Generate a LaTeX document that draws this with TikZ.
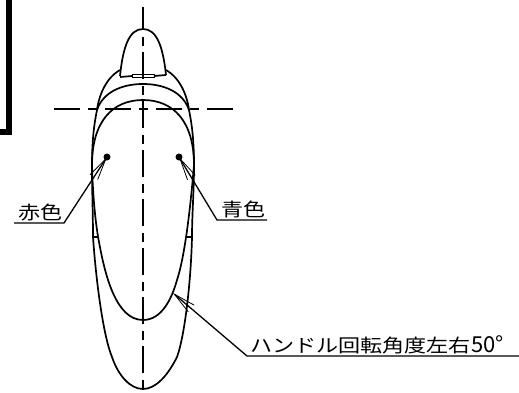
\documentclass[tikz,border=0pt]{standalone}
\usepackage{fontspec}
\usepackage{tikz}
\usetikzlibrary{arrows.meta}
\newfontfamily\jpfont[FakeStretch=1.2]{Noto Sans CJK JP}
\newfontfamily\jpdigits{Noto Sans CJK JP}
\tikzset{
    body/.style={line width=1.7pt},
    center line/.style={line width=1.3pt},
    vert dash/.style={dash pattern=on 27pt off 7pt on 9pt off 6pt, dash phase=4pt},
    horiz dash/.style={dash pattern=on 26pt off 8pt on 9pt off 8pt},
    leader/.style={line width=1.3pt, {Straight Barb[length=22pt,width=9pt,line width=0.8pt]}-},
    lever dot/.style={circle, fill=black, inner sep=0pt, minimum size=7pt},
    jp label/.style={inner sep=0pt, anchor=south west, font=\jpfont\fontsize{18.4}{18.4}\selectfont},
}
\begin{document}
\begin{tikzpicture}[x=1pt, y=-1pt]
    \useasboundingbox (0,0) rectangle (519,392);
    % frame corner
    \draw[line width=6pt] (9,0) -- (9,132) -- (0,132);
    % center lines
    \draw[center line, vert dash] (143,7) -- (143,392);
    \draw[center line, horiz dash] (54,109) -- (233,109);
    % spout
    \draw[body] (120,76) .. controls (123,47) and (129,29) .. (143,29)
                .. controls (157,29) and (163,47) .. (166,75);
    \draw[body] (120,77) -- (132,76) (154,76) -- (166,75);
    \draw[line width=1pt] (132,74) rectangle (154,77.5);
    % outer shoulder
    \draw[body] (120,70) .. controls (106,78) and (99,95) .. (97,110)
                .. controls (94,125) and (92,140) .. (92,167);
    \draw[body] (166,70) .. controls (180,78) and (187,95) .. (189,110)
                .. controls (192,125) and (194,140) .. (194,167);
    % middle arc
    \draw[body] (97,110) .. controls (103,92) and (122,84) .. (143,84)
                .. controls (164,84) and (183,92) .. (189,110);
    % handle top
    \draw[body] (92,165) .. controls (92,122) and (112,100) .. (143,100)
                .. controls (174,100) and (194,122) .. (194,165);
    % handle bottom
    \draw[body] (92,165) .. controls (93,205) and (97,232) .. (99,242)
                .. controls (105,275) and (116,320) .. (143,320)
                .. controls (162,320) and (172,298) .. (177,280)
                .. controls (183,262) and (189,225) .. (194,165);
    % body bottom
    \draw[body] (92,167) .. controls (92,190) and (93,215) .. (93,237)
                .. controls (96,280) and (103,335) .. (112,357)
                .. controls (118,375) and (130,389) .. (143,389)
                .. controls (156,389) and (168,375) .. (177,357)
                .. controls (185,335) and (191,280) .. (192,237)
                .. controls (192,215) and (194,190) .. (194,167);
    \draw[body] (93,237) -- (99,237) (187,237) -- (192,237);
    % dots and labels
    \node[lever dot] (reddot) at (107,157) {};
    \node[lever dot] (bluedot) at (179,157) {};
    \coordinate (handle) at (173,293);
    \node[jp label] (redlabel) at (18,221) {赤色};
    \node[jp label] (bluelabel) at (221,218) {青色};
    \node[jp label] (anglelabel) at (250,354) {ハンドル回転角度左右{\jpdigits\fontsize{22}{22}\selectfont 50°}};
    % leaders
    \coordinate (redend) at (14,223);
    \coordinate (blueend) at (267,220);
    \coordinate (angleend) at (519,356);
    \draw[leader] (reddot.center) -- (64,223) -- (redend);
    \draw[leader] (bluedot.center) -- (217,220) -- (blueend);
    \draw[leader] (handle) -- (247,356) -- (angleend);
\end{tikzpicture}
\end{document}
